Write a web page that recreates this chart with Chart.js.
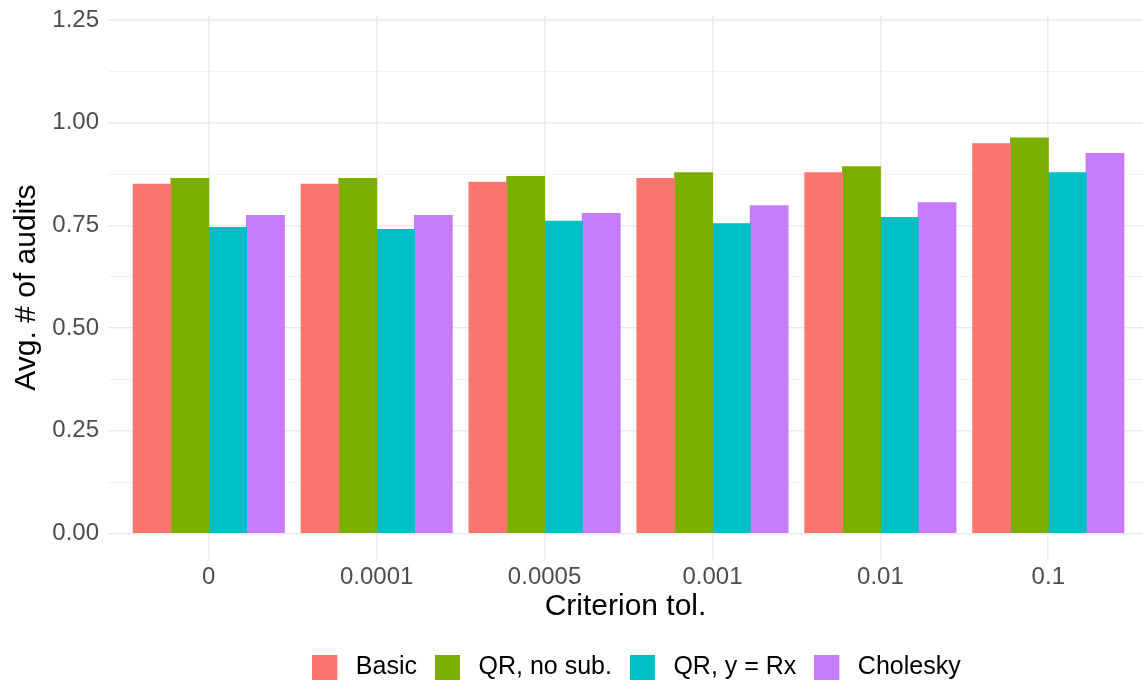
<!DOCTYPE html>
<html lang="en">
<head>
    <meta charset="UTF-8">
    <title>Avg. # of audits by criterion tol.</title>
    <script src="https://cdn.jsdelivr.net/npm/chart.js"></script>
    <style>
        html, body {
            margin: 0;
            padding: 0;
            background: #fff;
            overflow: hidden;
        }
        .wrap {
            width: 1143px;
            height: 685px;
            position: relative;
        }
    </style>
</head>
<body>

<div class="wrap">
    <canvas id="auditsChart"></canvas>
</div>

<script>
    // values
    const tolLabels = ['0', '0.0001', '0.0005', '0.001', '0.01', '0.1'];
    const basic     = [0.850, 0.850, 0.855, 0.864, 0.878, 0.949];
    const qrNoSub   = [0.864, 0.864, 0.869, 0.878, 0.893, 0.963];
    const qrRx      = [0.745, 0.740, 0.760, 0.754, 0.769, 0.878];
    const cholesky  = [0.774, 0.774, 0.779, 0.798, 0.805, 0.925];
    const seriesColors = ['#F8766D', '#7CAE00', '#00BFC4', '#C77CFF'];
    const yTicks    = [0, 0.125, 0.25, 0.375, 0.5, 0.625, 0.75, 0.875, 1, 1.125, 1.25];

    const FONT = "'Liberation Sans', Arial, Helvetica, sans-serif";

    function points(values) {
        return values.map((v, i) => ({ x: i, y: v }));
    }

    function isMajor(v) {
        return Math.abs(v / 0.25 - Math.round(v / 0.25)) < 1e-6;
    }

    // legend key: 25x25 square with some blank room on its right,
    // so the label sits a bit further from the key (like ggplot)
    function legendKey(color) {
        const c = document.createElement('canvas');
        c.width = 31;
        c.height = 25;
        const g = c.getContext('2d');
        g.fillStyle = color;
        g.fillRect(0, 0, 25, 25);
        return c;
    }

    // move the legend under the panel centre, a little lower
    const legendShift = {
        id: 'legendShift',
        afterLayout(chart) {
            const lg = chart.legend;
            if (!lg) return;
            lg.left += 65;
            lg.right += 65;
            lg.top += 5;
            lg.bottom += 5;
        }
    };

    function plotChart() {
        const ctx = document.getElementById('auditsChart').getContext('2d');

        new Chart(ctx, {
            type: 'bar',
            data: {
                datasets: [
                    { label: 'Basic',       data: points(basic),    backgroundColor: seriesColors[0], pointStyle: legendKey(seriesColors[0]) },
                    { label: 'QR, no sub.', data: points(qrNoSub),  backgroundColor: seriesColors[1], pointStyle: legendKey(seriesColors[1]) },
                    { label: 'QR, y = Rx',  data: points(qrRx),     backgroundColor: seriesColors[2], pointStyle: legendKey(seriesColors[2]) },
                    { label: 'Cholesky',    data: points(cholesky), backgroundColor: seriesColors[3], pointStyle: legendKey(seriesColors[3]) }
                ]
            },
            plugins: [legendShift],
            options: {
                responsive: true,
                maintainAspectRatio: false,
                animation: false,
                datasets: {
                    bar: {
                        categoryPercentage: 0.9,
                        barPercentage: 1.0,
                        borderWidth: 0,
                        inflateAmount: 0.5
                    }
                },
                layout: {
                    padding: { top: 16, left: 0, right: 0, bottom: 0 }
                },
                scales: {
                    x: {
                        type: 'linear',
                        min: -0.6,
                        max: 5.564,
                        offset: false,
                        afterBuildTicks: (scale) => {
                            scale.ticks = tolLabels.map((_, i) => ({ value: i }));
                        },
                        afterFit: (scale) => {
                            scale.height = 73;
                            scale.paddingLeft = 0;
                            scale.paddingRight = 0;
                        },
                        border: { display: false },
                        grid: {
                            offset: false,
                            color: '#ebebeb',
                            lineWidth: 1.6,
                            drawTicks: false
                        },
                        ticks: {
                            autoSkip: false,
                            maxRotation: 0,
                            padding: 4,
                            color: '#4d4d4d',
                            font: { family: FONT, size: 24 },
                            callback: (value) => tolLabels[value]
                        },
                        title: {
                            display: true,
                            text: 'Criterion tol.',
                            color: '#000',
                            padding: { top: 0, bottom: 7 },
                            font: { family: FONT, size: 30 }
                        }
                    },
                    y: {
                        min: -0.0625,
                        max: 1.26,
                        afterBuildTicks: (scale) => {
                            scale.ticks = yTicks.map(v => ({ value: v }));
                        },
                        afterFit: (scale) => {
                            scale.width = 108;
                            scale.paddingTop = 0;
                            scale.paddingBottom = 0;
                        },
                        border: { display: false },
                        grid: {
                            color: (c) => isMajor(c.tick.value) ? '#ebebeb' : '#f2f2f2',
                            lineWidth: (c) => isMajor(c.tick.value) ? 1.6 : 1,
                            drawTicks: false
                        },
                        ticks: {
                            padding: 9,
                            color: '#4d4d4d',
                            font: { family: FONT, size: 24 },
                            callback: (value) => isMajor(value) ? value.toFixed(2) : ''
                        },
                        title: {
                            display: true,
                            text: 'Avg. # of audits',
                            color: '#000',
                            padding: { top: 9, bottom: 0 },
                            font: { family: FONT, size: 30 }
                        }
                    }
                },
                plugins: {
                    legend: {
                        position: 'bottom',
                        labels: {
                            usePointStyle: true,
                            pointStyleWidth: 31,
                            boxHeight: 25,
                            padding: 18,
                            color: '#000',
                            font: { family: FONT, size: 25 }
                        }
                    },
                    tooltip: { enabled: false }
                }
            }
        });
    }

    document.addEventListener('DOMContentLoaded', plotChart);
</script>

</body>
</html>
